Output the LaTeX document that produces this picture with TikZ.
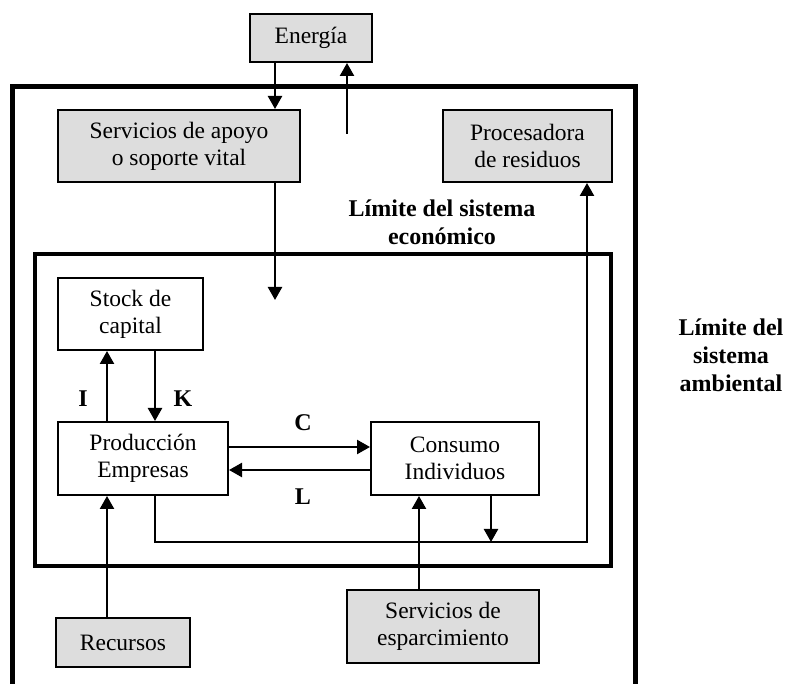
\documentclass[tikz,border=0pt]{standalone}
\usepackage{fontspec}
\setmainfont{Liberation Serif}
\usetikzlibrary{arrows.meta}
\definecolor{boxgray}{RGB}{221,221,221}
\begin{document}
\begin{tikzpicture}[x=1pt,y=-1pt,
  font=\fontsize{23.5}{27}\selectfont,
  blk/.style={draw, line width=2pt, rectangle, inner sep=0pt, align=center},
  graybox/.style={blk, fill=boxgray},
  whitebox/.style={blk, fill=white},
  flow/.style={line width=2.4pt, -{Triangle[length=13pt,width=14pt]}},
  tag/.style={font=\fontsize{24}{28}\selectfont\bfseries, align=center, inner sep=0pt}]
\useasboundingbox (0,0) rectangle (785,684);

% system boundaries
\draw[line width=5pt] (12,690) -- (12,87) -- (635,87) -- (635,690);
\draw[line width=4pt] (35,254) rectangle (611,566);

% blocks
\node[graybox, minimum width=122pt, minimum height=48pt] (energia) at (311,38) {Energía};
\node[graybox, minimum width=242pt, minimum height=72pt] (apoyo) at (179,146) {Servicios de apoyo\\o soporte vital};
\node[graybox, minimum width=169pt, minimum height=72pt] (proc) at (527.5,146) {Procesadora\\de residuos};
\node[whitebox, minimum width=145pt, minimum height=72pt] (stock) at (130.5,314) {Stock de\\capital};
\node[whitebox, minimum width=170pt, minimum height=73pt] (prod) at (143,458.5) {Producción\\Empresas};
\node[whitebox, minimum width=168pt, minimum height=73pt] (cons) at (455,458.5) {Consumo\\Individuos};
\node[graybox, minimum width=134pt, minimum height=49pt] (rec) at (123,642.5) {Recursos};
\node[graybox, minimum width=192pt, minimum height=73pt] (esp) at (443,626.5) {Servicios de\\esparcimiento};

% boundary labels
\node[tag] (econ) at (442,222) {Límite del sistema\\económico};
\node[tag] (amb) at (731,355) {Límite del\\sistema\\ambiental};

% flow labels
\node[tag] (lI) at (83,399) {I};
\node[tag] (lK) at (183,399) {K};
\node[tag] (lC) at (303,423) {C};
\node[tag] (lL) at (303,497) {L};

% helper coordinates for connector routes
\coordinate (xEin) at (275,0);
\coordinate (upstart) at (347,134);
\coordinate (sink) at (275,300);
\coordinate (xI) at (107,0);
\coordinate (xK) at (155,0);
\coordinate (yC) at (0,447);
\coordinate (yL) at (0,470);
\coordinate (yW) at (0,542);
\coordinate (xW) at (587,0);
\coordinate (xCw) at (491,0);
\coordinate (xEsp) at (419,0);

% connectors
\draw[flow] (energia.south -| xEin) -- (apoyo.north -| xEin);
\draw[flow] (upstart) -- (energia.south -| upstart);
\draw[flow] (apoyo.south -| sink) -- (sink);
\draw[flow] (prod.north -| xI) -- (stock.south -| xI);
\draw[flow] (stock.south -| xK) -- (prod.north -| xK);
\draw[flow] (prod.east |- yC) -- (cons.west |- yC);
\draw[flow] (cons.west |- yL) -- (prod.east |- yL);
\draw[flow] (prod.south -| xK) -- (xK |- yW) -- (xW |- yW) -- (proc.south -| xW);
\draw[flow] (cons.south -| xCw) -- (xCw |- yW);
\draw[flow] (esp.north -| xEsp) -- (cons.south -| xEsp);
\draw[flow] (rec.north -| xI) -- (prod.south -| xI);
\end{tikzpicture}
\end{document}
